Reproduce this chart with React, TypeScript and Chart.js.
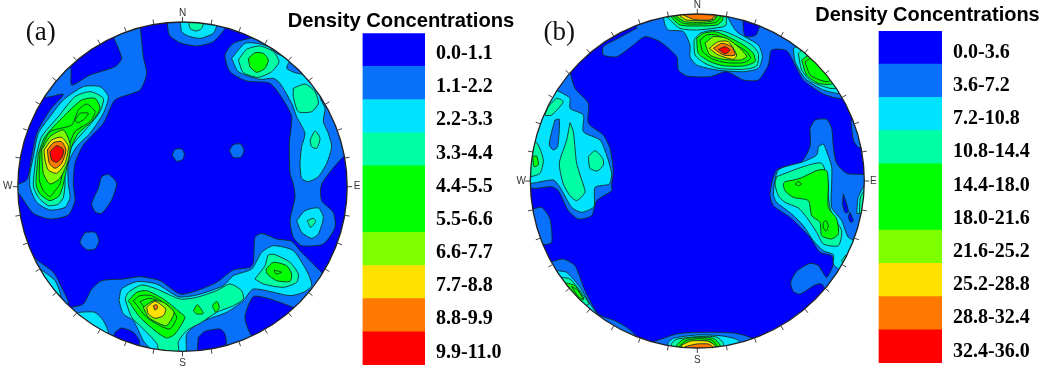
import React, { useEffect, useRef } from "react";
import { Chart, registerables } from "chart.js";

Chart.register(...registerables);

const bandColors = ["#0000ff", "#0870fa", "#00e3ff", "#00ffa5", "#00ff00", "#00ff00", "#7dff00", "#ffe100", "#ff7800", "#ff0000"];
const bandsA = ["0.0-1.1", "1.1-2.2", "2.2-3.3", "3.3-4.4", "4.4-5.5", "5.5-6.6", "6.6-7.7", "7.7-8.8", "8.8-9.9", "9.9-11.0"];
const bandsB = ["0.0-3.6", "3.6-7.2", "7.2-10.8", "10.8-14.4", "14.4-18.0", "18.0-21.6", "21.6-25.2", "25.2-28.8", "28.8-32.4", "32.4-36.0"];
const legendTitle = "Density Concentrations";
const compass = ["N", "E", "S", "W"];

// Contour polygons digitised on each stereonet: [band index, x, y, x, y, ...]
const contoursA: number[][] = [
  [1,420,70,430,170,440,220,420,270,345,300,310,370,250,435,225,490,220,552,225,602,205,645,150,657,100,640,60,585,40,560,80,540,95,470,110,400,150,330,190,283,135,292,110,270,185,185,212,205,215,255,270,225,345,200,365,175,340,110,330,80,420,50],
  [1,325,522,345,540,350,555,335,600,305,640,285,635,275,610,295,565,305,530],
  [1,255,697,285,697,297,722,285,747,260,749,240,727],
  [1,517,465,525,448,545,447,553,462,548,478,530,484],
  [1,688,452,700,434,722,432,732,452,722,472,700,472],
  [1,500,50,508,105,540,128,590,138,640,125,675,85,680,50],
  [2,540,50,545,95,565,108,600,115,640,100,652,70,650,50],
  [3,565,55,570,85,588,93,605,85,612,55],
  [1,760,112,700,130,675,165,690,215,740,243,810,250,850,300,875,350,868,430,870,520,880,552,885,592,870,662,880,712,905,737,970,732,1005,682,1000,637,965,602,965,552,1030,470,1060,460,1000,280,800,90],
  [2,695,175,715,215,780,238,820,235,840,250,875,310,890,350,915,400,905,440,900,490,905,535,925,545,955,530,980,490,995,440,985,400,970,365,975,325,960,290,990,280,890,150,840,165,805,140,770,130,735,130],
  [1,865,190,860,205,885,218,915,222,930,205,885,170],
  [3,715,180,740,148,780,138,820,155,837,185,815,215,775,232,730,218],
  [4,745,175,765,158,790,160,805,180,795,205,770,217,750,200],
  [3,880,265,915,252,945,275,955,310,935,335,895,335,880,290],
  [3,930,420,945,393,960,415,950,445,935,440],
  [1,215,922,250,912,275,867,305,842,370,837,420,830,480,842,540,882,590,872,650,847,700,810,750,802,760,787,765,712,785,700,830,717,875,724,900,752,935,787,972,824,1010,850,900,1050,547,1100,300,1010],
  [1,60,677,90,752,105,775,160,817,185,862,205,912,150,900,50,720],
  [0,880,922,810,897,760,890,735,952,755,1007,800,1020,900,960],
  [0,595,1012,615,994,660,987,675,1002,677,1035,595,1060],
  [0,345,997,365,984,400,997,418,1022,415,1050,340,1020],
  [2,220,944,240,937,285,937,310,962,325,1002,280,1010,200,950],
  [2,125,810,165,842,182,890,150,900,100,820],
  [2,357,902,365,867,410,845,470,852,535,890,590,885,670,857,700,827,755,807,785,757,820,737,880,752,925,822,935,857,910,877,870,887,760,867,730,902,680,937,600,967,560,1002,555,1060,450,1060,450,1047,430,1022,400,962,370,942],
  [2,890,662,915,632,955,624,970,652,955,702,935,715,905,697],
  [3,922,662,940,655,947,664,932,682],
  [3,375,897,385,877,425,855,470,867,540,897,590,892,650,872,690,852,725,872,730,897,700,917,650,937,605,967,560,992,535,1025,535,1060,480,1060,470,1030,425,982,395,952],
  [3,765,837,795,797,805,765,825,764,870,787,895,822,890,847,850,862,790,852],
  [4,385,902,410,877,440,872,490,897,540,937,555,952,525,1002,500,1014,465,992,420,952],
  [5,400,902,420,887,455,887,510,922,530,952,510,987,480,977,440,952],
  [5,420,905,445,895,470,900,510,935,515,955,495,970,460,955],
  [6,430,922,460,902,490,907,522,937,500,977,470,967,445,952],
  [7,440,922,465,904,497,927,490,947,465,955,445,942],
  [8,460,917,470,914,473,924,465,930],
  [4,580,932,592,914,610,940,590,942],
  [4,637,917,650,904,658,922,647,937],
  [4,798,807,820,787,860,797,875,822,870,844,830,842,802,822],
  [5,823,810,845,817,827,822],
  [2,100,470,115,400,150,350,190,300,250,260,300,260,325,290,310,340,270,400,230,440,205,490,205,552,210,592,195,622,150,630,110,607,90,562,90,520],
  [3,108,470,125,410,175,350,225,290,270,275,310,295,300,335,265,380,225,425,195,480,195,552,190,592,175,612,145,617,115,592,100,557],
  [4,115,460,135,410,190,350,245,300,285,295,300,325,275,365,235,400,215,440,190,552,178,587,150,602,120,582,108,552],
  [5,120,455,150,395,215,375,235,330,260,312,285,335,270,365,225,395,205,445,180,552,165,572,150,590,130,572,118,540],
  [5,225,360,240,340,265,340,250,360,232,368],
  [6,125,450,150,410,190,390,210,430,205,480,180,535,150,552,130,520],
  [7,132,450,155,420,185,412,205,440,195,490,170,520,145,510,135,480],
  [8,142,450,160,428,185,425,198,450,185,490,165,505,148,490],
  [9,150,455,170,437,190,448,187,470,170,487,155,480],
];

const contoursB: number[][] = [
  [1,350,85,295,115,250,140,250,165,290,170,340,135,375,110,420,125,470,170,475,210,500,228,570,230,620,215,670,240,715,240,745,195,755,150,800,152,825,195,850,240,910,282,965,295,1000,260,800,50,532,20,350,60],
  [0,668,55,720,60,708,105,675,108],
  [2,430,50,435,75,445,90,490,95,510,135,510,170,530,195,590,210,670,215,715,205,727,170,715,135,650,95,625,55,615,30,430,30],
  [3,522,120,525,165,555,190,595,205,670,208,710,198,715,160,695,135,640,105,605,92,570,92,540,100],
  [4,530,115,535,160,570,185,610,197,670,198,705,185,700,160,670,135,620,108,585,95,550,100],
  [5,540,120,548,155,580,178,620,188,670,188,692,175,680,155,640,130,590,105,560,105],
  [6,555,130,580,110,620,115,660,145,680,170,660,180,610,178,570,165],
  [7,568,145,595,125,625,125,650,165,640,178,595,165],
  [8,580,145,605,130,635,140,645,165,610,165],
  [9,595,148,615,140,630,150,615,162],
  [3,440,50,480,85,530,90,600,82,618,75,612,30,440,30],
  [4,448,45,480,75,540,78,590,75,608,60,605,30,448,30],
  [5,460,50,490,70,540,72,585,68,600,55,598,30,460,30],
  [6,470,50,495,65,540,67,580,62,592,45,590,30,470,30],
  [7,480,48,500,60,540,62,580,58,590,42,585,25,480,25],
  [8,490,45,520,58,570,60,582,50,585,25,490,25],
  [2,820,145,825,185,855,235,910,270,965,280,990,250,860,130],
  [3,835,160,845,210,875,245,930,265,960,262,980,240,870,135],
  [4,845,180,860,225,895,250,935,252,960,230,880,160],
  [5,855,185,870,225,900,240,925,245,950,220,885,170],
  [1,993,365,1000,420,1015,442,1040,440,1000,355],
  [1,870,385,885,360,920,358,935,385,940,440,950,490,980,520,1050,530,1080,700,960,890,918,870,905,852,885,855,840,882,820,874,812,847,830,814,870,790,895,797,920,832,940,792,935,767,900,757,870,712,810,652,760,617,750,582,770,510,840,490,870,440],
  [0,970,582,980,612,985,637,975,637,968,612],
  [0,990,637,1000,662,992,667,985,652],
  [2,895,440,910,432,920,455,935,500,935,552,935,622,965,662,985,712,1020,730,970,820,955,807,940,792,940,764,910,752,880,722,850,677,815,642,770,607,760,582,775,510,850,485,890,465],
  [3,770,530,850,500,905,490,925,552,925,592,935,642,965,692,955,737,910,732,890,697,860,652,835,624,795,607,775,587,765,552],
  [4,795,545,840,535,895,510,920,512,925,552,925,622,950,657,955,702,935,717,905,707,900,667,875,647,865,602,820,592,795,572,790,552],
  [5,910,667,918,662,925,677,918,694,910,682],
  [5,825,552,835,557,845,552,835,545],
  [2,1010,640,1015,590,1040,550,1050,640],
  [3,1018,640,1022,590,1040,565,1050,640],
  [3,965,782,978,765,985,770,970,790],
  [1,150,215,165,265,205,310,205,370,250,405,270,445,280,510,275,555,275,572,230,602,215,647,175,657,145,632,115,572,95,560,40,565,0,550,50,340,110,240],
  [2,125,278,150,295,150,325,190,345,190,395,240,420,258,460,275,520,268,552,225,562,222,620,185,637,155,622,120,562,100,540,35,550,0,550,60,300,100,270],
  [1,105,360,118,358,113,440,100,450,88,435,95,395],
  [3,85,320,110,295,130,305,95,345,75,345],
  [3,150,368,160,395,170,490,190,555,195,577,170,602,150,587,130,552,118,490,140,420],
  [3,205,470,225,452,248,475,250,495,232,513,210,505],
  [3,20,430,50,428,70,480,60,520,32,530,10,530],
  [4,38,470,50,468,55,495,42,500],
  [1,40,627,65,622,90,657,95,727,70,734,60,715,30,680],
  [1,105,782,130,777,165,797,195,872,235,942,285,962,320,982,350,1010,300,1000,150,880,90,790],
  [2,112,812,140,817,180,862,210,912,230,942,190,920,100,815],
  [3,125,832,150,837,180,872,207,912,190,915,115,835],
  [4,145,850,165,857,192,897,180,900,135,850],
  [5,155,860,172,870,190,897,175,890],
  [1,395,1027,470,1002,530,997,640,999,700,1017,720,1060,400,1060],
  [2,445,1027,460,1015,530,1005,600,1007,650,1018,665,1040,445,1050],
  [3,455,1030,470,1018,530,1010,590,1011,610,1030,605,1050,455,1050],
  [4,470,1035,490,1018,530,1012,580,1015,600,1035,600,1050,470,1050],
  [5,478,1038,498,1022,530,1016,575,1020,592,1040,590,1050,478,1050],
  [6,482,1040,505,1028,535,1022,570,1025,585,1042,580,1050,482,1050],
  [7,485,1035,512,1023,545,1022,565,1024,585,1037,580,1050,485,1050],
  [8,495,1040,530,1032,565,1032,580,1042,575,1055,495,1055],
];

type Net = { cx: number; cy: number; r: number; tag: string; tagX: number; tagY: number; labelGap: number[] };

function netPlugin(net: Net) {
  return {
    id: "netFrame",
    beforeDatasetsDraw(chart: any) {
      const { ctx, scales: { x, y } } = chart;
      const cx = x.getPixelForValue(net.cx), cy = y.getPixelForValue(net.cy);
      const r = x.getPixelForValue(net.cx + net.r) - cx;
      ctx.save();
      ctx.beginPath();
      ctx.arc(cx, cy, r, 0, Math.PI * 2);
      ctx.clip();
      ctx.fillStyle = bandColors[0];
      ctx.fillRect(cx - r, cy - r, 2 * r, 2 * r);
    },
    afterDatasetsDraw(chart: any) {
      const { ctx, scales: { x, y } } = chart;
      ctx.restore();
      const cx = x.getPixelForValue(net.cx), cy = y.getPixelForValue(net.cy);
      const r = x.getPixelForValue(net.cx + net.r) - cx;
      ctx.save();
      ctx.strokeStyle = "#222";
      ctx.lineWidth = 1.3;
      ctx.beginPath();
      ctx.arc(cx, cy, r, 0, Math.PI * 2);
      ctx.stroke();
      ctx.strokeStyle = "#444";
      ctx.lineWidth = 1;
      for (let k = 0; k < 36; k++) {
        const a = (k * Math.PI) / 18;
        const len = 5;
        ctx.beginPath();
        ctx.moveTo(cx + r * Math.sin(a), cy - r * Math.cos(a));
        ctx.lineTo(cx + (r + len) * Math.sin(a), cy - (r + len) * Math.cos(a));
        ctx.stroke();
      }
      ctx.fillStyle = "#333";
      ctx.font = "10px 'Liberation Sans'";
      ctx.textAlign = "center";
      ctx.textBaseline = "middle";
      compass.forEach((c, i) => {
        const a = (i * Math.PI) / 2;
        const d = r + net.labelGap[i];
        ctx.fillText(c, cx + d * Math.sin(a), cy - d * Math.cos(a));
      });
      ctx.fillStyle = "#111";
      ctx.font = "27px 'Liberation Serif'";
      ctx.fillText(net.tag, x.getPixelForValue(net.tagX), y.getPixelForValue(net.tagY));
      ctx.restore();
    },
  };
}

function contourDatasets(contours: number[][]) {
  return contours
    .map((c) => {
      const data: { x: number; y: number }[] = [];
      for (let i = 1; i < c.length; i += 2) data.push({ x: c[i], y: c[i + 1] });
      data.push({ ...data[0] });
      return {
        data,
        showLine: true,
        fill: "shape",
        tension: 0.22,
        borderColor: "#10302a",
        borderWidth: 0.9,
        backgroundColor: bandColors[c[0]],
        pointRadius: 0,
      };
    })
    .reverse();
}

function makeNet(canvas: HTMLCanvasElement, contours: number[][], net: Net, xMin: number, xMax: number) {
  return new Chart(canvas, {
    type: "scatter",
    data: { datasets: contourDatasets(contours) as any },
    options: {
      animation: false,
      responsive: false,
      layout: { padding: 0 },
      plugins: { legend: { display: false }, tooltip: { enabled: false }, title: { display: false } },
      scales: {
        x: { type: "linear", min: xMin, max: xMax, display: false },
        y: { type: "linear", min: 0, max: 1107, reverse: true, display: false },
      },
    },
    plugins: [netPlugin(net)],
  } as any);
}

function makeLegend(canvas: HTMLCanvasElement, bands: string[], xMin: number, axisWidth: number, titleTop: number, titleBottom: number, padBottom: number, labelOffset: number, titleSize: number) {
  return new Chart(canvas, {
    type: "bar",
    data: {
      labels: bands,
      datasets: [{ data: bands.map(() => 1), backgroundColor: bandColors, barPercentage: 1, categoryPercentage: 1, borderWidth: 0 }],
    },
    options: {
      indexAxis: "y",
      animation: false,
      responsive: false,
      layout: { padding: { left: 0, bottom: padBottom, top: 0, right: 0 } },
      plugins: {
        legend: { display: false },
        tooltip: { enabled: false },
        title: {
          display: true,
          text: legendTitle,
          color: "#000",
          font: { family: "'Liberation Sans'", weight: "bold", size: titleSize, lineHeight: 1.2 },
          padding: { top: titleTop, bottom: titleBottom },
        },
      },
      scales: {
        x: { min: xMin, max: 1, display: false },
        y: {
          position: "right",
          grid: { display: false, drawTicks: false },
          border: { display: false },
          afterFit: (s: any) => { s.width = axisWidth; s.paddingTop = 0; s.paddingBottom = 0; },
          ticks: { color: "#000", padding: 11, crossAlign: "near", labelOffset, font: { family: "'Liberation Serif'", weight: "bold", size: 20 } },
        },
      },
    },
  } as any);
}

const abs = (left: number, width: number): React.CSSProperties => ({ position: "absolute", left, top: 0, width, height: 369 });

export default function App() {
  const netA = useRef<HTMLCanvasElement>(null);
  const netB = useRef<HTMLCanvasElement>(null);
  const legA = useRef<HTMLCanvasElement>(null);
  const legB = useRef<HTMLCanvasElement>(null);
  useEffect(() => {
    const charts = [
      makeNet(netA.current!, contoursA, { cx: 547.5, cy: 560, r: 494, tag: "(a)", tagX: 122, tagY: 100, labelGap: [9, 10, 12, 10] }, 0, 1080),
      makeNet(netB.current!, contoursB, { cx: 532, cy: 543, r: 501, tag: "(b)", tagX: 118, tagY: 100, labelGap: [9, 9, 12, 9] }, -30, 1080),
      makeLegend(legA.current!, bandsA, -1.32, 96, 9, 0, 4, 4, 20.2),
      makeLegend(legB.current!, bandsB, -1.016, 98, 3, 4, 6, 5, 20),
    ];
    return () => charts.forEach((c) => c.destroy());
  }, []);
  return (
    <div style={{ position: "absolute", left: 0, top: 0, width: 1045, height: 369, background: "#fff" }}>
      <canvas ref={netA} width={360} height={369} style={abs(0, 360)} />
      <canvas ref={netB} width={370} height={369} style={abs(510, 370)} />
      <canvas ref={legA} width={240} height={369} style={abs(281, 240)} />
      <canvas ref={legB} width={225} height={369} style={abs(815, 225)} />
    </div>
  );
}
